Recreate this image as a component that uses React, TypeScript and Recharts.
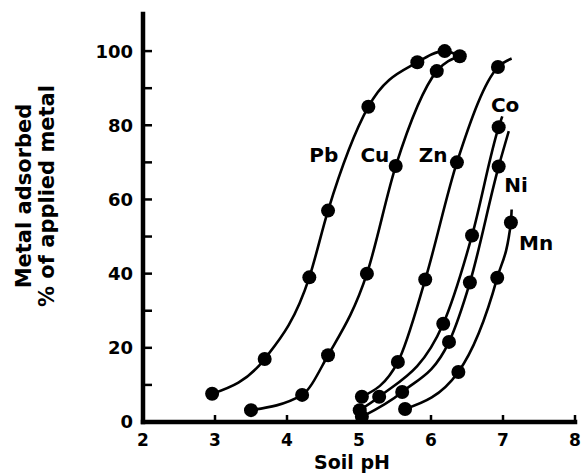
import { LineChart, Line, XAxis, YAxis, ReferenceDot, Label } from "recharts";

const FONT = "'DejaVu Sans', Verdana, sans-serif";

// soil pH and % of applied metal adsorbed.
// *_END is where the drawn curve stops past its last marker.
const PB_PH = [2.96, 3.69, 4.31, 4.57, 5.13, 5.81, 6.19];
const PB_PCT = [7.6, 17, 39, 57, 85, 97, 100];
const PB_END = [6.4, 98.6];

const CU_PH = [3.5, 4.21, 4.57, 5.11, 5.51, 6.08, 6.4];
const CU_PCT = [3.2, 7.3, 18, 40, 69, 94.6, 98.6];

const ZN_PH = [5.04, 5.54, 5.92, 6.36, 6.93];
const ZN_PCT = [6.8, 16.2, 38.4, 70, 95.7];
const ZN_END = [7.12, 98];

const CO_PH = [5.01, 5.28, 6.17, 6.57, 6.94];
const CO_PCT = [3.2, 6.8, 26.5, 50.3, 79.5];
const CO_END = [6.99, 82.4];

const NI_PH = [5.04, 5.6, 6.25, 6.54, 6.94];
const NI_PCT = [1.4, 8.1, 21.6, 37.6, 68.9];
const NI_END = [7.08, 78.4];

const MN_PH = [5.64, 6.38, 6.92, 7.11];
const MN_PCT = [3.5, 13.5, 38.9, 53.8];
const MN_END = [7.12, 57.3];

const X_TICKS = [2, 3, 4, 5, 6, 7, 8];
const Y_TICKS = [0, 10, 20, 30, 40, 50, 60, 70, 80, 90, 100];

const CURVE_NAMES = ["Pb", "Cu", "Zn", "Co", "Ni", "Mn"];
const NAME_PH = [4.51, 5.22, 6.03, 7.03, 7.18, 7.46];
const NAME_PCT = [72, 72, 72, 85.5, 63.9, 48.3];

type Pt = { x: number; y: number; mark: boolean };

function build(ph: number[], pct: number[], end?: number[]): Pt[] {
  const pts = ph.map((x, i) => ({ x, y: pct[i], mark: true }));
  if (end) pts.push({ x: end[0], y: end[1], mark: false });
  return pts;
}

const series = [
  build(PB_PH, PB_PCT, PB_END),
  build(CU_PH, CU_PCT),
  build(ZN_PH, ZN_PCT, ZN_END),
  build(CO_PH, CO_PCT, CO_END),
  build(NI_PH, NI_PCT, NI_END),
  build(MN_PH, MN_PCT, MN_END),
];

const renderDot = (p: any) =>
  p.payload && p.payload.mark ? (
    <circle key={p.index} cx={p.cx} cy={p.cy} r={7} fill="#000" />
  ) : (
    <g key={p.index} />
  );

const YTick = (p: any) => {
  const v = p.payload.value;
  return (
    <g>
      <line x1={p.x + 10} x2={p.x + 19} y1={p.y} y2={p.y} stroke="#000" strokeWidth={2.5} />
      {v % 20 === 0 && (
        <text x={p.x} y={p.y} dy="0.36em" textAnchor="end" fontFamily={FONT} fontWeight="bold" fontSize={18} fill="#000">
          {v}
        </text>
      )}
    </g>
  );
};

const XTick = (p: any) => (
  <g>
    <line x1={p.x} x2={p.x} y1={p.y - 12} y2={p.y - 19} stroke="#000" strokeWidth={2.5} />
    <text x={p.x} y={p.y} dy="0.71em" textAnchor="middle" fontFamily={FONT} fontWeight="bold" fontSize={17} fill="#000">
      {p.payload.value}
    </text>
  </g>
);

const XTitle = (p: any) => {
  const vb = p.viewBox;
  return (
    <text x={vb.x + vb.width / 2 - 7} y={vb.y + 47} textAnchor="middle" fontFamily={FONT} fontWeight="bold" fontSize={19} fill="#000">
      Soil pH
    </text>
  );
};

const YTitle = (p: any) => {
  const vb = p.viewBox;
  const cy = vb.y + 182;
  return (
    <g fontFamily={FONT} fontWeight="bold" fontSize={21} fill="#000">
      <text transform={`translate(31, ${cy}) rotate(-90)`} textAnchor="middle">Metal adsorbed</text>
      <text transform={`translate(54, ${cy}) rotate(-90)`} textAnchor="middle">% of applied metal</text>
    </g>
  );
};

export default function App() {
  return (
    <div style={{ position: "absolute", left: 0, top: 0, background: "#fff" }}>
      <LineChart width={582} height={474} margin={{ top: 14, right: 7, bottom: 0, left: 0 }}>
        <XAxis
          type="number"
          dataKey="x"
          domain={[2, 8]}
          ticks={X_TICKS}
          interval={0}
          height={52}
          tickSize={0}
          tickMargin={12}
          tickLine={false}
          tick={<XTick />}
          axisLine={{ stroke: "#000", strokeWidth: 4.5, strokeLinecap: "square" }}
          allowDataOverflow
          label={<XTitle />}
        />
        <YAxis
          type="number"
          dataKey="y"
          domain={[0, 110]}
          ticks={Y_TICKS}
          interval={0}
          width={143}
          tickSize={0}
          tickMargin={10}
          tickLine={false}
          tick={<YTick />}
          axisLine={{ stroke: "#000", strokeWidth: 4.5, strokeLinecap: "square" }}
          allowDataOverflow
          label={<YTitle />}
        />
        {series.map((d, i) => (
          <Line
            key={CURVE_NAMES[i]}
            data={d}
            dataKey="y"
            type="monotone"
            stroke="#000"
            strokeWidth={2.6}
            dot={renderDot}
            activeDot={false}
            isAnimationActive={false}
          />
        ))}
        {CURVE_NAMES.map((name, i) => (
          <ReferenceDot
            key={name}
            x={NAME_PH[i]}
            y={NAME_PCT[i]}
            r={0}
            fill="none"
            stroke="none"
            label={<Label value={name} position="center" fontFamily={FONT} fontWeight="bold" fontSize={20} fill="#000" />}
          />
        ))}
      </LineChart>
    </div>
  );
}
